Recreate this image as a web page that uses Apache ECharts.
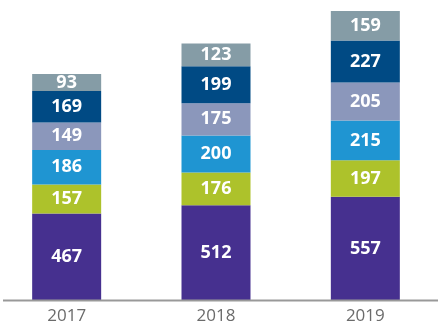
<!DOCTYPE html>
<html>
<head>
<meta charset="utf-8">
<script src="https://cdn.jsdelivr.net/npm/echarts@6/dist/echarts.min.js"></script>
<style>
  html, body { margin: 0; padding: 0; background: #ffffff; }
  #chart { width: 445px; height: 329px; }
</style>
</head>
<body>
<div id="chart"></div>
<script>
// Yearly values, stacked bottom to top
const years = ['2017', '2018', '2019'];
const seg1 = [467, 512, 557];
const seg2 = [157, 176, 197];
const seg3 = [186, 200, 215];
const seg4 = [149, 175, 205];
const seg5 = [169, 199, 227];
const seg6 = [93, 123, 159];

const segments = [seg1, seg2, seg3, seg4, seg5, seg6];
const colors = ['#46308f', '#adc22b', '#1f95d2', '#8b97bb', '#004a84', '#859ca6'];

const chart = echarts.init(document.getElementById('chart'), null, { renderer: 'canvas' });

chart.setOption({
  animation: false,
  grid: { left: -8, right: 5, top: 0, bottom: 29, outerBoundsMode: 'none', containLabel: false },
  xAxis: {
    type: 'category',
    data: years,
    axisLine: { show: false },
    axisTick: { show: false },
    axisLabel: {
      color: '#6b6b6b',
      fontFamily: 'Open Sans',
      fontSize: 17,
      margin: 8
    }
  },
  yAxis: {
    type: 'value',
    min: 0,
    max: 1620,
    show: false,
    splitLine: { show: false }
  },
  graphic: [{
    type: 'line',
    shape: { x1: 3, y1: 300.5, x2: 438, y2: 300.5 },
    style: { stroke: '#999999', lineWidth: 2 },
    z: 10
  }],
  series: segments.map((vals, i) => ({
    type: 'bar',
    stack: 'total',
    data: vals,
    barWidth: 69,
    itemStyle: { color: colors[i] },
    label: {
      show: true,
      position: 'inside',
      color: '#ffffff',
      fontFamily: 'Open Sans',
      fontWeight: 'bold',
      fontSize: 18
    }
  }))
});
</script>
</body>
</html>
